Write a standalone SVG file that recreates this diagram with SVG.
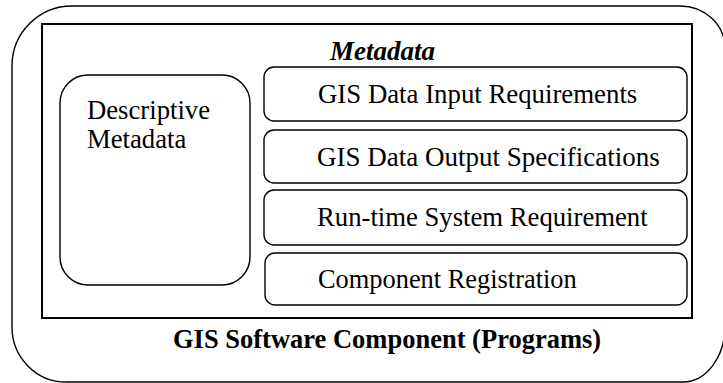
<svg xmlns="http://www.w3.org/2000/svg" width="723" height="383" viewBox="0 0 723 383">
<rect width="723" height="383" fill="#fff"/>
<g id="software-component">
<path fill="none" stroke="#000" stroke-width="1.4" d="M72,6 H680 A45,42 0 0 1 725,48 V326 A42,56 0 0 1 683,382 H66 A54,55 0 0 1 12,327 V66 A60,60 0 0 1 72,6 Z"/>
<text x="173" y="348" font-family="Liberation Serif" font-size="26.5" font-weight="bold">GIS Software Component (Programs)</text>
</g>
<g id="metadata">
<rect x="42" y="24" width="650" height="294" fill="none" stroke="#000" stroke-width="2"/>
<text x="330" y="60" font-family="Liberation Serif" font-size="27" font-weight="bold" font-style="italic">Metadata</text>
</g>
<g id="descriptive">
<rect x="60" y="75" width="190" height="210" rx="28" ry="28" fill="#fff" stroke="#000" stroke-width="1.4"/>
<text x="87" y="119" font-family="Liberation Serif" font-size="26.7">Descriptive</text>
<text x="87" y="148" font-family="Liberation Serif" font-size="26.7">Metadata</text>
</g>
<g id="input-req">
<rect x="264" y="67" width="423" height="54" rx="10" ry="10" fill="#fff" stroke="#000" stroke-width="1.4"/>
<text x="318" y="103" font-family="Liberation Serif" font-size="26.8">GIS Data Input Requirements</text>
</g>
<g id="output-spec">
<rect x="264" y="130" width="423" height="53" rx="10" ry="10" fill="#fff" stroke="#000" stroke-width="1.4"/>
<text x="317" y="166" font-family="Liberation Serif" font-size="27">GIS Data Output Specifications</text>
</g>
<g id="runtime-req">
<rect x="264" y="190" width="423" height="55" rx="10" ry="10" fill="#fff" stroke="#000" stroke-width="1.4"/>
<text x="317" y="226" font-family="Liberation Serif" font-size="26.7">Run-time System Requirement</text>
</g>
<g id="registration">
<rect x="265" y="253" width="422" height="52" rx="10" ry="10" fill="#fff" stroke="#000" stroke-width="1.4"/>
<text x="318" y="288" font-family="Liberation Serif" font-size="26.4">Component Registration</text>
</g>
<g id="connectors"></g>
</svg>
